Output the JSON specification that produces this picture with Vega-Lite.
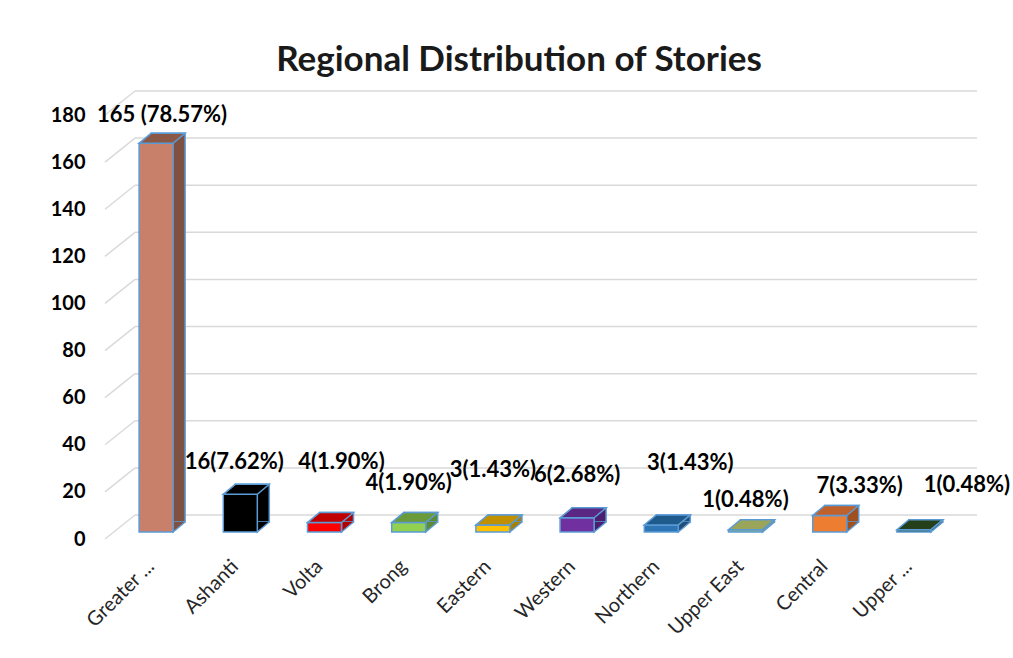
{
  "$schema": "https://vega.github.io/schema/vega-lite/v6.json",
  "autosize": {"type": "none"},
  "width": 842,
  "height": 424,
  "padding": {"left": 114, "top": 115, "right": 57, "bottom": 119},
  "background": "white",
  "title": {"text": "Regional Distribution of Stories", "font": "Lato", "fontSize": 35, "fontWeight": "bold", "color": "#1a1a1a", "anchor": "middle", "offset": 12, "dx": -16},
  "config": {"view": {"stroke": null}},
  "datasets": {
    "regions": [
      {"region": "Greater ...", "count": 165, "label": "165 (78.57%)"},
      {"region": "Ashanti", "count": 16, "label": "16(7.62%)"},
      {"region": "Volta", "count": 4, "label": "4(1.90%)"},
      {"region": "Brong", "count": 4, "label": "4(1.90%)"},
      {"region": "Eastern", "count": 3, "label": "3(1.43%)"},
      {"region": "Western", "count": 6, "label": "6(2.68%)"},
      {"region": "Northern", "count": 3, "label": "3(1.43%)"},
      {"region": "Upper East", "count": 1, "label": "1(0.48%)"},
      {"region": "Central", "count": 7, "label": "7(3.33%)"},
      {"region": "Upper ...", "count": 1, "label": "1(0.48%)"}
    ],
    "grid": [{"g": 0}, {"g": 20}, {"g": 40}, {"g": 60}, {"g": 80}, {"g": 100}, {"g": 120}, {"g": 140}, {"g": 160}, {"g": 180}]
  },
  "resolve": {"scale": {"x": "independent", "fill": "independent"}},
  "layer": [
    {
      "data": {"name": "grid"},
      "mark": {"type": "rule", "color": "#D9D9D9", "strokeWidth": 1.5, "xOffset": 21, "x2Offset": 21, "yOffset": -24},
      "encoding": {
        "x": {"datum": 0, "type": "quantitative", "scale": {"domain": [0, 1]}, "axis": null},
        "x2": {"datum": 1},
        "y": {"field": "g", "type": "quantitative", "scale": {"domain": [0, 180], "nice": false}, "axis": {"values": [0, 20, 40, 60, 80, 100, 120, 140, 160, 180], "title": null, "ticks": false, "domain": false, "grid": false, "labelFont": "Lato", "labelFontSize": 20, "labelFontWeight": "bold", "labelColor": "#000000", "labelPadding": 29}}
      }
    },
    {
      "data": {"name": "grid"},
      "mark": {"type": "rule", "color": "#D9D9D9", "strokeWidth": 1.5, "xOffset": -9, "x2Offset": 21, "y2Offset": -24},
      "encoding": {
        "x": {"datum": 0, "type": "quantitative", "scale": {"domain": [0, 1]}, "axis": null},
        "x2": {"datum": 0},
        "y": {"field": "g", "type": "quantitative"},
        "y2": {"field": "g"}
      }
    },
    {
      "data": {"name": "regions"},
      "resolve": {"scale": {"fill": "independent"}},
      "layer": [
        {
          "mark": {"type": "bar", "stroke": "#5B9BD5", "strokeWidth": 1.5, "xOffset": 12, "yOffset": -17, "y2Offset": -17},
          "encoding": {
            "x": {"field": "region", "type": "nominal", "sort": null, "scale": {"paddingInner": 0.596, "paddingOuter": 0.298}, "axis": {"labelAngle": -45, "labelAlign": "right", "labelBaseline": "middle", "labelFont": "Lato", "labelFontSize": 20, "labelColor": "#262626", "labelPadding": 24, "labelOffset": -5, "ticks": false, "domain": false, "title": null}},
            "y": {"field": "count", "type": "quantitative"},
            "fill": {"field": "region", "type": "nominal", "legend": null, "scale": {"domain": ["Greater ...", "Ashanti", "Volta", "Brong", "Eastern", "Western", "Northern", "Upper East", "Central", "Upper ..."], "range": ["#7F5140", "#000000", "#B00000", "#5E8A33", "#A88000", "#4B1F6E", "#1F4E79", "#8A9A50", "#A0501F", "#243F1A"]}}
          }
        },
        {
          "mark": {"type": "point", "shape": "M17,-10L17,0L29,-10", "size": 4, "filled": true, "opacity": 1, "stroke": "#5B9BD5", "strokeWidth": 1.5, "yOffset": -7},
          "encoding": {
            "x": {"field": "region", "type": "nominal", "sort": null},
            "y": {"datum": 0, "type": "quantitative"},
            "fill": {"field": "region", "type": "nominal", "legend": null, "scale": {"domain": ["Greater ...", "Ashanti", "Volta", "Brong", "Eastern", "Western", "Northern", "Upper East", "Central", "Upper ..."], "range": ["#7F5140", "#000000", "#B00000", "#5E8A33", "#A88000", "#4B1F6E", "#1F4E79", "#8A9A50", "#A0501F", "#243F1A"]}}
          }
        },
        {
          "mark": {"type": "bar", "stroke": "#5B9BD5", "strokeWidth": 1.5, "yOffset": -7, "y2Offset": -7},
          "encoding": {
            "x": {"field": "region", "type": "nominal", "sort": null},
            "y": {"field": "count", "type": "quantitative"},
            "fill": {"field": "region", "type": "nominal", "legend": null, "scale": {"domain": ["Greater ...", "Ashanti", "Volta", "Brong", "Eastern", "Western", "Northern", "Upper East", "Central", "Upper ..."], "range": ["#C9806A", "#000000", "#FF0000", "#92D050", "#FFC000", "#7030A0", "#2E75B6", "#9BBB59", "#ED7D31", "#2A4A1E"]}}
          }
        },
        {
          "mark": {"type": "point", "shape": "M-17,0L17,0L29,-10L-5,-10Z", "size": 4, "filled": true, "opacity": 1, "stroke": "#5B9BD5", "strokeWidth": 1.5, "yOffset": -7},
          "encoding": {
            "x": {"field": "region", "type": "nominal", "sort": null},
            "y": {"field": "count", "type": "quantitative"},
            "fill": {"field": "region", "type": "nominal", "legend": null, "scale": {"domain": ["Greater ...", "Ashanti", "Volta", "Brong", "Eastern", "Western", "Northern", "Upper East", "Central", "Upper ..."], "range": ["#8C5846", "#000000", "#C00000", "#6B9A3B", "#C09000", "#5A2782", "#1F5A8C", "#9AA55A", "#C0602A", "#243F1A"]}}
          }
        },
        {"transform": [{"filter": "datum.region === 'Greater ...'"}], "mark": {"type": "text", "font": "Lato", "fontSize": 22, "fontWeight": "bold", "color": "#000000", "dx": 6, "dy": -35}, "encoding": {"x": {"field": "region", "type": "nominal", "sort": null}, "y": {"field": "count", "type": "quantitative"}, "text": {"field": "label"}}},
        {"transform": [{"filter": "datum.region === 'Ashanti'"}], "mark": {"type": "text", "font": "Lato", "fontSize": 22, "fontWeight": "bold", "color": "#000000", "dx": -6, "dy": -39}, "encoding": {"x": {"field": "region", "type": "nominal", "sort": null}, "y": {"field": "count", "type": "quantitative"}, "text": {"field": "label"}}},
        {"transform": [{"filter": "datum.region === 'Volta'"}], "mark": {"type": "text", "font": "Lato", "fontSize": 22, "fontWeight": "bold", "color": "#000000", "dx": 17, "dy": -68}, "encoding": {"x": {"field": "region", "type": "nominal", "sort": null}, "y": {"field": "count", "type": "quantitative"}, "text": {"field": "label"}}},
        {"transform": [{"filter": "datum.region === 'Brong'"}], "mark": {"type": "text", "font": "Lato", "fontSize": 22, "fontWeight": "bold", "color": "#000000", "dx": 0, "dy": -47}, "encoding": {"x": {"field": "region", "type": "nominal", "sort": null}, "y": {"field": "count", "type": "quantitative"}, "text": {"field": "label"}}},
        {"transform": [{"filter": "datum.region === 'Eastern'"}], "mark": {"type": "text", "font": "Lato", "fontSize": 22, "fontWeight": "bold", "color": "#000000", "dx": 0, "dy": -62}, "encoding": {"x": {"field": "region", "type": "nominal", "sort": null}, "y": {"field": "count", "type": "quantitative"}, "text": {"field": "label"}}},
        {"transform": [{"filter": "datum.region === 'Western'"}], "mark": {"type": "text", "font": "Lato", "fontSize": 22, "fontWeight": "bold", "color": "#000000", "dx": 0, "dy": -50}, "encoding": {"x": {"field": "region", "type": "nominal", "sort": null}, "y": {"field": "count", "type": "quantitative"}, "text": {"field": "label"}}},
        {"transform": [{"filter": "datum.region === 'Northern'"}], "mark": {"type": "text", "font": "Lato", "fontSize": 22, "fontWeight": "bold", "color": "#000000", "dx": 29, "dy": -69}, "encoding": {"x": {"field": "region", "type": "nominal", "sort": null}, "y": {"field": "count", "type": "quantitative"}, "text": {"field": "label"}}},
        {"transform": [{"filter": "datum.region === 'Upper East'"}], "mark": {"type": "text", "font": "Lato", "fontSize": 22, "fontWeight": "bold", "color": "#000000", "dx": 0, "dy": -37}, "encoding": {"x": {"field": "region", "type": "nominal", "sort": null}, "y": {"field": "count", "type": "quantitative"}, "text": {"field": "label"}}},
        {"transform": [{"filter": "datum.region === 'Central'"}], "mark": {"type": "text", "font": "Lato", "fontSize": 22, "fontWeight": "bold", "color": "#000000", "dx": 30, "dy": -37}, "encoding": {"x": {"field": "region", "type": "nominal", "sort": null}, "y": {"field": "count", "type": "quantitative"}, "text": {"field": "label"}}},
        {"transform": [{"filter": "datum.region === 'Upper ...'"}], "mark": {"type": "text", "font": "Lato", "fontSize": 22, "fontWeight": "bold", "color": "#000000", "dx": 53, "dy": -52}, "encoding": {"x": {"field": "region", "type": "nominal", "sort": null}, "y": {"field": "count", "type": "quantitative"}, "text": {"field": "label"}}}
      ]
    }
  ]
}
